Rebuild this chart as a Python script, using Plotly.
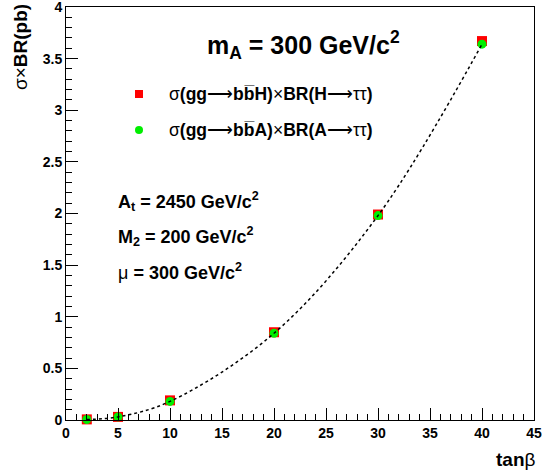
import plotly.graph_objects as go

# ---- data ----
tanb = [2, 5, 10, 20, 30, 40]
sigma_H = [0.006, 0.03, 0.19, 0.85, 1.99, 3.67]
sigma_A = [0.005, 0.03, 0.18, 0.84, 1.98, 3.64]

x_ticks = [0, 5, 10, 15, 20, 25, 30, 35, 40, 45]
x_ticktext = ["0", "5", "10", "15", "20", "25", "30", "35", "40", "45"]
y_ticks = [0, 0.5, 1, 1.5, 2, 2.5, 3, 3.5, 4]
y_ticktext = ["0", "0.5", "1", "1.5", "2", "2.5", "3", "3.5", "4"]

W, H = 543, 476
L, R, T, B = 66, 9, 7, 56
pw, ph = W - L - R, H - T - B

def px(X):
    return (X - L) / pw

def py(Y):
    return (H - B - Y) / ph

FONT = "Liberation Sans"
ARROW = "⟶"

fig = go.Figure()
fig.add_trace(go.Scatter(x=tanb, y=sigma_H, mode="markers",
                         marker=dict(symbol="square", size=10, color="#ff0000"),
                         showlegend=False, cliponaxis=False))
fig.add_trace(go.Scatter(x=tanb, y=sigma_A, mode="markers",
                         marker=dict(symbol="circle", size=9, color="#00ee00"),
                         showlegend=False, cliponaxis=False))
fig.add_trace(go.Scatter(x=tanb, y=sigma_A, mode="lines",
                         line=dict(color="black", width=1.5, dash="3px,3px", shape="spline"),
                         showlegend=False))

axis_common = dict(showline=True, linecolor="black", linewidth=1, mirror=True,
                   ticks="inside", ticklen=12, tickcolor="black", tickwidth=1,
                   showgrid=False, zeroline=False, automargin=False,
                   ticklabeloverflow="allow",
                   tickfont=dict(family=FONT, size=14, color="black"))

fig.update_xaxes(range=[0, 45], tickvals=x_ticks,
                 ticktext=["<b>%s</b>" % t for t in x_ticktext],
                 minor=dict(dtick=1, ticks="inside", ticklen=6, tickcolor="black", showgrid=False),
                 **axis_common)
fig.update_yaxes(range=[0, 4], tickvals=y_ticks,
                 ticktext=["<b>%s</b>" % t for t in y_ticktext],
                 minor=dict(dtick=0.1, ticks="inside", ticklen=6, tickcolor="black", showgrid=False),
                 **axis_common)

ann = []
def add_text(X, Y, text, size, xanchor="left", yanchor="middle", angle=0):
    ann.append(dict(x=px(X), y=py(Y), xref="paper", yref="paper", text=text,
                    showarrow=False, xanchor=xanchor, yanchor=yanchor, textangle=angle,
                    font=dict(family=FONT, size=size, color="black")))

add_text(205, 45, "<b>m<sub>A</sub> = 300 GeV/c<sup>2</sup></b>", 25)
add_text(167, 94, "σ<b>(gg</b>" + ARROW + "<b>bb\u0305H)</b>×<b>BR(H</b>" + ARROW + "ττ<b>)</b>", 17.5)
add_text(167, 130, "σ<b>(gg</b>" + ARROW + "<b>bb\u0305A)</b>×<b>BR(A</b>" + ARROW + "ττ<b>)</b>", 17.5)
add_text(116, 201, "<b>A<sub>t</sub> = 2450 GeV/c<sup>2</sup></b>", 18)
add_text(116, 236, "<b>M<sub>2</sub> = 200 GeV/c<sup>2</sup></b>", 18)
add_text(116, 271, "μ<b> = 300 GeV/c<sup>2</sup></b>", 18)
add_text(538, 460, "<b>tan</b>β", 19, xanchor="right")
add_text(20, 2, "σ×<b>BR(pb)</b>", 19, xanchor="center", yanchor="top", angle=-90)

shapes = [
    dict(type="rect", xref="paper", yref="paper",
         x0=px(135), x1=px(143), y0=py(98), y1=py(90),
         fillcolor="#ff0000", line=dict(width=0)),
    dict(type="circle", xref="paper", yref="paper",
         x0=px(135), x1=px(143), y0=py(134), y1=py(126),
         fillcolor="#00ee00", line=dict(width=0)),
]

fig.update_layout(width=W, height=H, margin=dict(l=L, r=R, t=T, b=B),
                  paper_bgcolor="white", plot_bgcolor="white",
                  annotations=ann, shapes=shapes, showlegend=False)

fig.write_html("out.html", config={"displayModeBar": False},
               post_script="document.body.style.margin='0';document.body.style.overflow='hidden';")
